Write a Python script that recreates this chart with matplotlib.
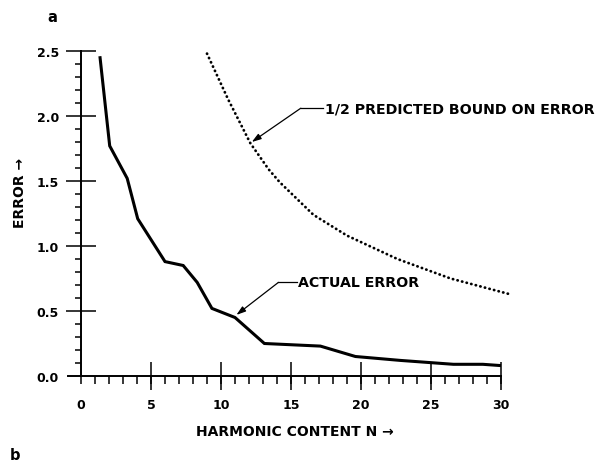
import matplotlib
matplotlib.use("Agg")
import matplotlib.pyplot as plt
import numpy as np
from matplotlib.ticker import FixedLocator

# Measured error of the harmonic approximation
harmonics = [1.35, 2.05, 3.3, 4.05, 6.0, 7.3, 8.3, 9.35, 11.0, 13.1, 17.1, 19.6, 22.8, 26.6, 28.7, 30.0]
actual_error = [2.46, 1.77, 1.52, 1.21, 0.88, 0.85, 0.72, 0.52, 0.45, 0.25, 0.23, 0.15, 0.12, 0.09, 0.09, 0.08]

# Half of the predicted error bound
bound_harmonics = [9.0, 10.5, 12.1, 13.4, 14.2, 16.6, 19.0, 22.6, 26.4, 30.6]
bound_error = [2.48, 2.13, 1.79, 1.59, 1.49, 1.24, 1.08, 0.90, 0.75, 0.63]

x_ticks = [0, 5, 10, 15, 20, 25, 30]
y_ticks = [0.0, 0.5, 1.0, 1.5, 2.0, 2.5]

W, H = 599, 464
fig = plt.figure(figsize=(W / 100, H / 100), dpi=100)
plt.rcParams['font.family'] = ['DejaVu Sans']
plt.rcParams['font.weight'] = 'bold'

# axes placed so that N=0 -> x px 81, 14 px per harmonic; E=0 -> y px 377, 130 px per unit
xlim = (-2.0, 32.0)
ylim = (-0.35, 2.75)
left_px = 81 + 14 * xlim[0]
right_px = 81 + 14 * xlim[1]
bottom_px = 377 - 130 * ylim[0]
top_px = 377 - 130 * ylim[1]
ax = fig.add_axes([left_px / W, 1 - bottom_px / H,
                   (right_px - left_px) / W, (bottom_px - top_px) / H])
ax.set_xlim(*xlim)
ax.set_ylim(*ylim)
ax.patch.set_visible(False)

ax.plot(harmonics, actual_error, color='black', lw=2.2,
        solid_joinstyle='miter', solid_capstyle='butt')
ax.plot(bound_harmonics, bound_error, color='black', lw=2.0,
        linestyle=(0, (0.1, 1.6)), dash_capstyle='round')

# axes frame
for s in ('top', 'right'):
    ax.spines[s].set_visible(False)
ax.spines['left'].set_position(('data', 0))
ax.spines['bottom'].set_position(('data', 0))
ax.spines['left'].set_bounds(0, y_ticks[-1])
ax.spines['bottom'].set_bounds(-0.9, x_ticks[-1])
for s in ('left', 'bottom'):
    ax.spines[s].set_linewidth(1.4)

ax.xaxis.set_major_locator(FixedLocator(x_ticks))
ax.xaxis.set_minor_locator(FixedLocator(np.arange(0, x_ticks[-1] + 1)))
ax.yaxis.set_major_locator(FixedLocator(y_ticks))
ax.yaxis.set_minor_locator(FixedLocator(np.linspace(0, y_ticks[-1], 26)))
ax.xaxis.remove_overlapping_locs = False
ax.set_xticklabels([str(v) for v in x_ticks], fontweight='bold')
ax.set_yticklabels([f"{v:.1f}" for v in y_ticks], fontweight='bold')

ax.tick_params(axis='x', which='major', direction='inout', length=20, width=1.1,
               pad=6, labelsize=9)
ax.tick_params(axis='x', which='minor', direction='out', length=5.5, width=1.1)
ax.tick_params(axis='y', which='major', direction='inout', length=22, width=1.1,
               pad=5, labelsize=9)
ax.tick_params(axis='y', which='minor', direction='out', length=4.5, width=1.1)
ax.xaxis.get_major_ticks()[0].tick1line.set_visible(False)
ax.yaxis.get_major_ticks()[0].tick1line.set_visible(False)

# callouts
def callout(text, tip, elbow, text_x, text_y):
    ax.plot([elbow[0], text_x - 0.1], [elbow[1], text_y], color='black', lw=0.9)
    ax.annotate('', xy=tip, xytext=elbow,
                arrowprops=dict(arrowstyle='-|>,head_length=0.55,head_width=0.18',
                                color='black', lw=0.9, shrinkA=0, shrinkB=0))
    ax.text(text_x, text_y, text, fontsize=10.2, fontweight='bold',
            ha='left', va='center')

callout('1/2 PREDICTED BOUND ON ERROR', (12.2, 1.80), (15.7, 2.06), 17.4, 2.06)
callout('ACTUAL ERROR', (11.1, 0.47), (14.1, 0.72), 15.5, 0.72)

fig.text(20 / W, 1 - 193 / H, 'ERROR \u2192', rotation=90, fontsize=10,
         fontweight='bold', ha='center', va='center')
fig.text(295 / W, 1 - 432 / H, 'HARMONIC CONTENT N \u2192', fontsize=10,
         fontweight='bold', ha='center', va='center')
fig.text(52 / W, 1 - 17 / H, 'a', fontsize=10.5, fontweight='bold',
         ha='center', va='center')
fig.text(15 / W, 1 - 456 / H, 'b', fontsize=10.5, fontweight='bold',
         ha='center', va='center')

fig.savefig('out.png', dpi=100)
